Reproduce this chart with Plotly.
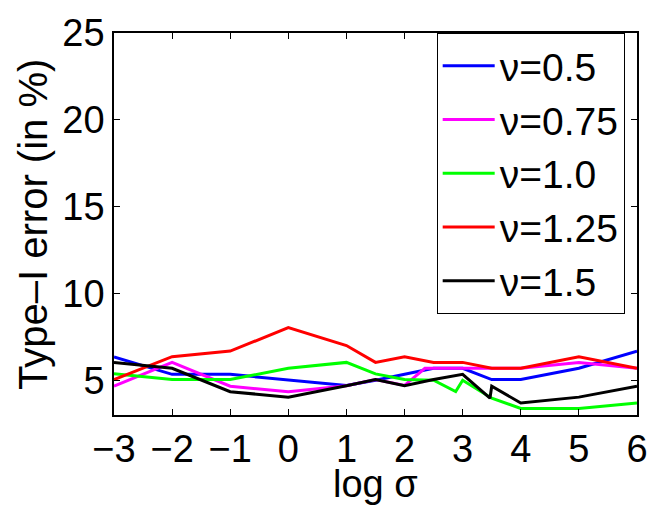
import plotly.graph_objects as go

names = ["ν=0.5", "ν=0.75", "ν=1.0", "ν=1.25", "ν=1.5"]
colors = ["#0000ff", "#ff00ff", "#00ff00", "#ff0000", "#000000"]

x_blue = [-3, -2, -1, 0, 1, 1.5, 2, 2.5, 3, 3.5, 4, 5, 6]
y_blue = [6.34, 5.34, 5.34, 5.0, 4.7, 5.0, 5.34, 5.69, 5.69, 5.04, 5.04, 5.69, 6.68]

x_mag = [-3, -2, -1, 0, 1, 1.5, 2, 2.35, 3, 3.5, 4, 5, 6]
y_mag = [4.66, 6.03, 4.66, 4.34, 4.68, 5.04, 4.7, 5.69, 5.69, 5.69, 5.69, 6.03, 5.69]

x_green = [-3, -2, -1, 0, 1, 1.5, 2, 2.5, 2.88, 3, 3.5, 4, 5, 6]
y_green = [5.37, 5.04, 5.04, 5.69, 6.03, 5.37, 5.04, 5.0, 4.35, 5.0, 3.97, 3.38, 3.38, 3.69]

x_red = [-3, -2, -1, 0, 1, 1.5, 2, 2.5, 3, 3.5, 4, 5, 6]
y_red = [5.04, 6.36, 6.68, 8.03, 7.0, 6.03, 6.36, 6.03, 6.03, 5.69, 5.69, 6.36, 5.69]

x_black = [-3, -2, -1, 0, 1, 1.5, 2, 2.5, 3, 3.47, 3.5, 4, 5, 6]
y_black = [6.03, 5.69, 4.34, 4.03, 4.68, 5.04, 4.68, 5.04, 5.34, 3.97, 4.66, 3.69, 4.03, 4.66]

xs = [x_blue, x_mag, x_green, x_red, x_black]
ys = [y_blue, y_mag, y_green, y_red, y_black]

x_ticks = [-3, -2, -1, 0, 1, 2, 3, 4, 5, 6]
y_ticks = [5, 10, 15, 20, 25]
x_title = "log σ"
y_title = "Type–I error (in %)"

FONT = "Liberation Sans, Arial, sans-serif"

fig = go.Figure()
for n, c, x, y in zip(names, colors, xs, ys):
    fig.add_trace(go.Scatter(x=x, y=y, mode="lines", name=n,
                             line=dict(color=c, width=3)))

axis_common = dict(showline=True, linecolor="black", linewidth=1.5, mirror="ticks",
                   ticks="inside", ticklen=6, tickcolor="black", tickwidth=1,
                   showgrid=False, zeroline=False,
                   tickfont=dict(family=FONT, size=38, color="black"))

fig.update_layout(
    width=660, height=508,
    margin=dict(l=114, r=17, t=23, b=93),
    paper_bgcolor="white", plot_bgcolor="white",
    font=dict(family=FONT, color="black"),
    xaxis=dict(range=[-3, 6], tickvals=x_ticks, **axis_common),
    yaxis=dict(range=[3, 25], tickvals=y_ticks, **axis_common),
    legend=dict(x=0.617, y=1.0, xanchor="left", yanchor="top",
                bordercolor="black", borderwidth=1, bgcolor="white",
                font=dict(family=FONT, size=39, color="black"),
                itemwidth=52, tracegroupgap=0),
    showlegend=True,
    annotations=[
        dict(text=x_title, xref="paper", yref="paper", x=0.5, y=-0.18,
             xanchor="center", yanchor="middle", showarrow=False,
             font=dict(family=FONT, size=38, color="black")),
        dict(text=y_title, xref="paper", yref="paper", x=-0.155, y=0.5,
             xanchor="center", yanchor="middle", textangle=-90, showarrow=False,
             font=dict(family=FONT, size=40, color="black")),
    ],
)

fig.write_html("out.html")
